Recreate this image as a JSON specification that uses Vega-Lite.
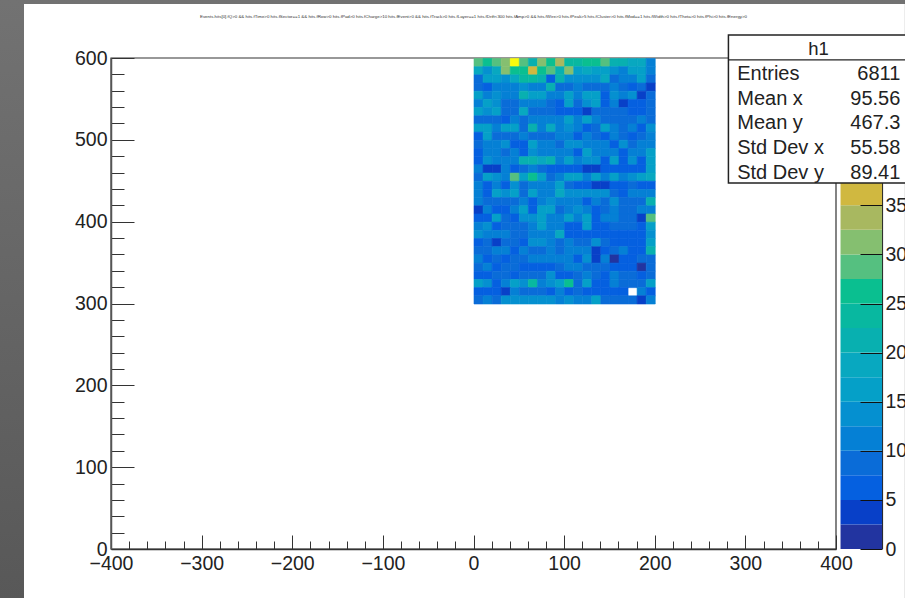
{
"$schema":"https://vega.github.io/schema/vega-lite/v6.json",
"width":725,"height":491,
"autosize":{"type":"none"},
"padding":{"left":111,"top":58,"right":69,"bottom":49},
"background":"#636363",
"view":{"stroke":null},
"config":{"font":"Liberation Sans"},
"title":{"text":"Events.hits[0].fQ>0 && hits.fTime>0 hits.fSector==1 && hits.fRow>0 hits.fPad>0 hits.fCharge>10 hits.fEvent>0 && hits.fTrack>0 hits.fLayer==1 hits.fDrift<300 hits.fAmp>0 && hits.fWire>0 hits.fPeak>5 hits.fCluster>0 hits.fMod==1 hits.fWidth>0 hits.fTheta>0 hits.fPhi>0 hits.fEnergy>0","fontSize":4.4,"fontWeight":"normal","color":"#333","anchor":"middle","offset":-20,"font":"Liberation Sans"},
"datasets":{
"cells":[
{"x":5,"y":595,"n":29},{"x":15,"y":595,"n":26},{"x":25,"y":595,"n":28},{"x":35,"y":595,"n":31},{"x":45,"y":595,"n":49},{"x":55,"y":595,"n":28},{"x":65,"y":595,"n":21},{"x":75,"y":595,"n":31},{"x":85,"y":595,"n":26},{"x":95,"y":595,"n":33},{"x":105,"y":595,"n":24},{"x":115,"y":595,"n":24},{"x":125,"y":595,"n":25},{"x":135,"y":595,"n":25},{"x":145,"y":595,"n":28},{"x":155,"y":595,"n":22},{"x":165,"y":595,"n":22},{"x":175,"y":595,"n":18},{"x":185,"y":595,"n":18},{"x":195,"y":595,"n":11},
{"x":5,"y":585,"n":18},{"x":15,"y":585,"n":13},{"x":25,"y":585,"n":18},{"x":35,"y":585,"n":31},{"x":45,"y":585,"n":25},{"x":55,"y":585,"n":25},{"x":65,"y":585,"n":36},{"x":75,"y":585,"n":26},{"x":85,"y":585,"n":28},{"x":95,"y":585,"n":21},{"x":105,"y":585,"n":30},{"x":115,"y":585,"n":15},{"x":125,"y":585,"n":19},{"x":135,"y":585,"n":17},{"x":145,"y":585,"n":17},{"x":155,"y":585,"n":13},{"x":165,"y":585,"n":11},{"x":175,"y":585,"n":17},{"x":185,"y":585,"n":16},{"x":195,"y":585,"n":11},
{"x":5,"y":575,"n":9},{"x":15,"y":575,"n":15},{"x":25,"y":575,"n":16},{"x":35,"y":575,"n":13},{"x":45,"y":575,"n":18},{"x":55,"y":575,"n":24},{"x":65,"y":575,"n":24},{"x":75,"y":575,"n":21},{"x":85,"y":575,"n":7},{"x":95,"y":575,"n":22},{"x":105,"y":575,"n":13},{"x":115,"y":575,"n":13},{"x":125,"y":575,"n":14},{"x":135,"y":575,"n":14},{"x":145,"y":575,"n":18},{"x":155,"y":575,"n":9},{"x":165,"y":575,"n":11},{"x":175,"y":575,"n":12},{"x":185,"y":575,"n":16},{"x":195,"y":575,"n":9},
{"x":5,"y":565,"n":8},{"x":15,"y":565,"n":6},{"x":25,"y":565,"n":11},{"x":35,"y":565,"n":12},{"x":45,"y":565,"n":12},{"x":55,"y":565,"n":14},{"x":65,"y":565,"n":11},{"x":75,"y":565,"n":11},{"x":85,"y":565,"n":20},{"x":95,"y":565,"n":8},{"x":105,"y":565,"n":9},{"x":115,"y":565,"n":10},{"x":125,"y":565,"n":8},{"x":135,"y":565,"n":8},{"x":145,"y":565,"n":9},{"x":155,"y":565,"n":11},{"x":165,"y":565,"n":9},{"x":175,"y":565,"n":5},{"x":185,"y":565,"n":8},{"x":195,"y":565,"n":4},
{"x":5,"y":555,"n":15},{"x":15,"y":555,"n":11},{"x":25,"y":555,"n":13},{"x":35,"y":555,"n":10},{"x":45,"y":555,"n":10},{"x":55,"y":555,"n":21},{"x":65,"y":555,"n":16},{"x":75,"y":555,"n":15},{"x":85,"y":555,"n":12},{"x":95,"y":555,"n":10},{"x":105,"y":555,"n":17},{"x":115,"y":555,"n":12},{"x":125,"y":555,"n":15},{"x":135,"y":555,"n":15},{"x":145,"y":555,"n":7},{"x":155,"y":555,"n":13},{"x":165,"y":555,"n":11},{"x":175,"y":555,"n":14},{"x":185,"y":555,"n":4},{"x":195,"y":555,"n":9},
{"x":5,"y":545,"n":11},{"x":15,"y":545,"n":16},{"x":25,"y":545,"n":14},{"x":35,"y":545,"n":9},{"x":45,"y":545,"n":9},{"x":55,"y":545,"n":12},{"x":65,"y":545,"n":12},{"x":75,"y":545,"n":12},{"x":85,"y":545,"n":9},{"x":95,"y":545,"n":6},{"x":105,"y":545,"n":16},{"x":115,"y":545,"n":9},{"x":125,"y":545,"n":13},{"x":135,"y":545,"n":15},{"x":145,"y":545,"n":7},{"x":155,"y":545,"n":11},{"x":165,"y":545,"n":4},{"x":175,"y":545,"n":7},{"x":185,"y":545,"n":7},{"x":195,"y":545,"n":9},
{"x":5,"y":535,"n":15},{"x":15,"y":535,"n":13},{"x":25,"y":535,"n":15},{"x":35,"y":535,"n":9},{"x":45,"y":535,"n":9},{"x":55,"y":535,"n":18},{"x":65,"y":535,"n":9},{"x":75,"y":535,"n":9},{"x":85,"y":535,"n":9},{"x":95,"y":535,"n":6},{"x":105,"y":535,"n":6},{"x":115,"y":535,"n":6},{"x":125,"y":535,"n":3},{"x":135,"y":535,"n":9},{"x":145,"y":535,"n":9},{"x":155,"y":535,"n":9},{"x":165,"y":535,"n":8},{"x":175,"y":535,"n":7},{"x":185,"y":535,"n":7},{"x":195,"y":535,"n":9},
{"x":5,"y":525,"n":9},{"x":15,"y":525,"n":9},{"x":25,"y":525,"n":8},{"x":35,"y":525,"n":7},{"x":45,"y":525,"n":11},{"x":55,"y":525,"n":8},{"x":65,"y":525,"n":10},{"x":75,"y":525,"n":12},{"x":85,"y":525,"n":10},{"x":95,"y":525,"n":10},{"x":105,"y":525,"n":15},{"x":115,"y":525,"n":12},{"x":125,"y":525,"n":15},{"x":135,"y":525,"n":10},{"x":145,"y":525,"n":8},{"x":155,"y":525,"n":9},{"x":165,"y":525,"n":9},{"x":175,"y":525,"n":9},{"x":185,"y":525,"n":11},{"x":195,"y":525,"n":8},
{"x":5,"y":515,"n":15},{"x":15,"y":515,"n":16},{"x":25,"y":515,"n":12},{"x":35,"y":515,"n":15},{"x":45,"y":515,"n":16},{"x":55,"y":515,"n":9},{"x":65,"y":515,"n":21},{"x":75,"y":515,"n":12},{"x":85,"y":515,"n":18},{"x":95,"y":515,"n":10},{"x":105,"y":515,"n":14},{"x":115,"y":515,"n":12},{"x":125,"y":515,"n":7},{"x":135,"y":515,"n":9},{"x":145,"y":515,"n":16},{"x":155,"y":515,"n":11},{"x":165,"y":515,"n":9},{"x":175,"y":515,"n":11},{"x":185,"y":515,"n":7},{"x":195,"y":515,"n":13},
{"x":5,"y":505,"n":6},{"x":15,"y":505,"n":15},{"x":25,"y":505,"n":8},{"x":35,"y":505,"n":9},{"x":45,"y":505,"n":9},{"x":55,"y":505,"n":11},{"x":65,"y":505,"n":9},{"x":75,"y":505,"n":8},{"x":85,"y":505,"n":8},{"x":95,"y":505,"n":11},{"x":105,"y":505,"n":12},{"x":115,"y":505,"n":7},{"x":125,"y":505,"n":12},{"x":135,"y":505,"n":9},{"x":145,"y":505,"n":7},{"x":155,"y":505,"n":12},{"x":165,"y":505,"n":8},{"x":175,"y":505,"n":7},{"x":185,"y":505,"n":9},{"x":195,"y":505,"n":10},
{"x":5,"y":495,"n":8},{"x":15,"y":495,"n":10},{"x":25,"y":495,"n":10},{"x":35,"y":495,"n":14},{"x":45,"y":495,"n":7},{"x":55,"y":495,"n":6},{"x":65,"y":495,"n":15},{"x":75,"y":495,"n":12},{"x":85,"y":495,"n":12},{"x":95,"y":495,"n":8},{"x":105,"y":495,"n":13},{"x":115,"y":495,"n":13},{"x":125,"y":495,"n":10},{"x":135,"y":495,"n":12},{"x":145,"y":495,"n":10},{"x":155,"y":495,"n":7},{"x":165,"y":495,"n":13},{"x":175,"y":495,"n":9},{"x":185,"y":495,"n":10},{"x":195,"y":495,"n":10},
{"x":5,"y":485,"n":6},{"x":15,"y":485,"n":11},{"x":25,"y":485,"n":10},{"x":35,"y":485,"n":8},{"x":45,"y":485,"n":11},{"x":55,"y":485,"n":7},{"x":65,"y":485,"n":13},{"x":75,"y":485,"n":12},{"x":85,"y":485,"n":11},{"x":95,"y":485,"n":11},{"x":105,"y":485,"n":11},{"x":115,"y":485,"n":7},{"x":125,"y":485,"n":15},{"x":135,"y":485,"n":10},{"x":145,"y":485,"n":11},{"x":155,"y":485,"n":10},{"x":165,"y":485,"n":7},{"x":175,"y":485,"n":12},{"x":185,"y":485,"n":10},{"x":195,"y":485,"n":15},
{"x":5,"y":475,"n":6},{"x":15,"y":475,"n":14},{"x":25,"y":475,"n":10},{"x":35,"y":475,"n":10},{"x":45,"y":475,"n":10},{"x":55,"y":475,"n":21},{"x":65,"y":475,"n":21},{"x":75,"y":475,"n":18},{"x":85,"y":475,"n":22},{"x":95,"y":475,"n":10},{"x":105,"y":475,"n":17},{"x":115,"y":475,"n":11},{"x":125,"y":475,"n":14},{"x":135,"y":475,"n":14},{"x":145,"y":475,"n":7},{"x":155,"y":475,"n":16},{"x":165,"y":475,"n":7},{"x":175,"y":475,"n":13},{"x":185,"y":475,"n":6},{"x":195,"y":475,"n":15},
{"x":5,"y":465,"n":10},{"x":15,"y":465,"n":4},{"x":25,"y":465,"n":4},{"x":35,"y":465,"n":10},{"x":45,"y":465,"n":5},{"x":55,"y":465,"n":9},{"x":65,"y":465,"n":10},{"x":75,"y":465,"n":8},{"x":85,"y":465,"n":7},{"x":95,"y":465,"n":7},{"x":105,"y":465,"n":7},{"x":115,"y":465,"n":7},{"x":125,"y":465,"n":4},{"x":135,"y":465,"n":4},{"x":145,"y":465,"n":7},{"x":155,"y":465,"n":7},{"x":165,"y":465,"n":7},{"x":175,"y":465,"n":7},{"x":185,"y":465,"n":7},{"x":195,"y":465,"n":15},
{"x":5,"y":455,"n":8},{"x":15,"y":455,"n":15},{"x":25,"y":455,"n":14},{"x":35,"y":455,"n":12},{"x":45,"y":455,"n":28},{"x":55,"y":455,"n":16},{"x":65,"y":455,"n":25},{"x":75,"y":455,"n":17},{"x":85,"y":455,"n":9},{"x":95,"y":455,"n":11},{"x":105,"y":455,"n":16},{"x":115,"y":455,"n":16},{"x":125,"y":455,"n":12},{"x":135,"y":455,"n":16},{"x":145,"y":455,"n":11},{"x":155,"y":455,"n":16},{"x":165,"y":455,"n":12},{"x":175,"y":455,"n":13},{"x":185,"y":455,"n":15},{"x":195,"y":455,"n":19},
{"x":5,"y":445,"n":10},{"x":15,"y":445,"n":5},{"x":25,"y":445,"n":11},{"x":35,"y":445,"n":6},{"x":45,"y":445,"n":13},{"x":55,"y":445,"n":9},{"x":65,"y":445,"n":11},{"x":75,"y":445,"n":12},{"x":85,"y":445,"n":11},{"x":95,"y":445,"n":17},{"x":105,"y":445,"n":9},{"x":115,"y":445,"n":7},{"x":125,"y":445,"n":7},{"x":135,"y":445,"n":4},{"x":145,"y":445,"n":4},{"x":155,"y":445,"n":7},{"x":165,"y":445,"n":7},{"x":175,"y":445,"n":8},{"x":185,"y":445,"n":5},{"x":195,"y":445,"n":7},
{"x":5,"y":435,"n":12},{"x":15,"y":435,"n":5},{"x":25,"y":435,"n":16},{"x":35,"y":435,"n":13},{"x":45,"y":435,"n":15},{"x":55,"y":435,"n":9},{"x":65,"y":435,"n":15},{"x":75,"y":435,"n":11},{"x":85,"y":435,"n":11},{"x":95,"y":435,"n":18},{"x":105,"y":435,"n":13},{"x":115,"y":435,"n":13},{"x":125,"y":435,"n":13},{"x":135,"y":435,"n":14},{"x":145,"y":435,"n":14},{"x":155,"y":435,"n":8},{"x":165,"y":435,"n":7},{"x":175,"y":435,"n":10},{"x":185,"y":435,"n":10},{"x":195,"y":435,"n":12},
{"x":5,"y":425,"n":12},{"x":15,"y":425,"n":9},{"x":25,"y":425,"n":9},{"x":35,"y":425,"n":9},{"x":45,"y":425,"n":9},{"x":55,"y":425,"n":10},{"x":65,"y":425,"n":6},{"x":75,"y":425,"n":10},{"x":85,"y":425,"n":13},{"x":95,"y":425,"n":11},{"x":105,"y":425,"n":11},{"x":115,"y":425,"n":11},{"x":125,"y":425,"n":6},{"x":135,"y":425,"n":11},{"x":145,"y":425,"n":8},{"x":155,"y":425,"n":13},{"x":165,"y":425,"n":8},{"x":175,"y":425,"n":8},{"x":185,"y":425,"n":9},{"x":195,"y":425,"n":22},
{"x":5,"y":415,"n":4},{"x":15,"y":415,"n":11},{"x":25,"y":415,"n":7},{"x":35,"y":415,"n":7},{"x":45,"y":415,"n":12},{"x":55,"y":415,"n":17},{"x":65,"y":415,"n":6},{"x":75,"y":415,"n":15},{"x":85,"y":415,"n":15},{"x":95,"y":415,"n":8},{"x":105,"y":415,"n":11},{"x":115,"y":415,"n":13},{"x":125,"y":415,"n":12},{"x":135,"y":415,"n":7},{"x":145,"y":415,"n":8},{"x":155,"y":415,"n":11},{"x":165,"y":415,"n":8},{"x":175,"y":415,"n":8},{"x":185,"y":415,"n":11},{"x":195,"y":415,"n":11},
{"x":5,"y":405,"n":7},{"x":15,"y":405,"n":7},{"x":25,"y":405,"n":15},{"x":35,"y":405,"n":9},{"x":45,"y":405,"n":7},{"x":55,"y":405,"n":13},{"x":65,"y":405,"n":13},{"x":75,"y":405,"n":17},{"x":85,"y":405,"n":10},{"x":95,"y":405,"n":10},{"x":105,"y":405,"n":17},{"x":115,"y":405,"n":11},{"x":125,"y":405,"n":16},{"x":135,"y":405,"n":7},{"x":145,"y":405,"n":11},{"x":155,"y":405,"n":11},{"x":165,"y":405,"n":9},{"x":175,"y":405,"n":9},{"x":185,"y":405,"n":4},{"x":195,"y":405,"n":29},
{"x":5,"y":395,"n":10},{"x":15,"y":395,"n":13},{"x":25,"y":395,"n":7},{"x":35,"y":395,"n":9},{"x":45,"y":395,"n":9},{"x":55,"y":395,"n":9},{"x":65,"y":395,"n":11},{"x":75,"y":395,"n":16},{"x":85,"y":395,"n":10},{"x":95,"y":395,"n":10},{"x":105,"y":395,"n":6},{"x":115,"y":395,"n":7},{"x":125,"y":395,"n":16},{"x":135,"y":395,"n":7},{"x":145,"y":395,"n":7},{"x":155,"y":395,"n":8},{"x":165,"y":395,"n":8},{"x":175,"y":395,"n":9},{"x":185,"y":395,"n":7},{"x":195,"y":395,"n":15},
{"x":5,"y":385,"n":13},{"x":15,"y":385,"n":11},{"x":25,"y":385,"n":11},{"x":35,"y":385,"n":11},{"x":45,"y":385,"n":9},{"x":55,"y":385,"n":9},{"x":65,"y":385,"n":11},{"x":75,"y":385,"n":10},{"x":85,"y":385,"n":10},{"x":95,"y":385,"n":18},{"x":105,"y":385,"n":7},{"x":115,"y":385,"n":7},{"x":125,"y":385,"n":7},{"x":135,"y":385,"n":7},{"x":145,"y":385,"n":7},{"x":155,"y":385,"n":7},{"x":165,"y":385,"n":7},{"x":175,"y":385,"n":7},{"x":185,"y":385,"n":7},{"x":195,"y":385,"n":13},
{"x":5,"y":375,"n":7},{"x":15,"y":375,"n":9},{"x":25,"y":375,"n":4},{"x":35,"y":375,"n":8},{"x":45,"y":375,"n":9},{"x":55,"y":375,"n":6},{"x":65,"y":375,"n":14},{"x":75,"y":375,"n":13},{"x":85,"y":375,"n":12},{"x":95,"y":375,"n":8},{"x":105,"y":375,"n":10},{"x":115,"y":375,"n":9},{"x":125,"y":375,"n":9},{"x":135,"y":375,"n":13},{"x":145,"y":375,"n":9},{"x":155,"y":375,"n":6},{"x":165,"y":375,"n":7},{"x":175,"y":375,"n":7},{"x":185,"y":375,"n":7},{"x":195,"y":375,"n":15},
{"x":5,"y":365,"n":9},{"x":15,"y":365,"n":9},{"x":25,"y":365,"n":11},{"x":35,"y":365,"n":11},{"x":45,"y":365,"n":7},{"x":55,"y":365,"n":12},{"x":65,"y":365,"n":9},{"x":75,"y":365,"n":9},{"x":85,"y":365,"n":10},{"x":95,"y":365,"n":8},{"x":105,"y":365,"n":12},{"x":115,"y":365,"n":10},{"x":125,"y":365,"n":10},{"x":135,"y":365,"n":4},{"x":145,"y":365,"n":7},{"x":155,"y":365,"n":9},{"x":165,"y":365,"n":12},{"x":175,"y":365,"n":7},{"x":185,"y":365,"n":7},{"x":195,"y":365,"n":22},
{"x":5,"y":355,"n":10},{"x":15,"y":355,"n":5},{"x":25,"y":355,"n":8},{"x":35,"y":355,"n":6},{"x":45,"y":355,"n":8},{"x":55,"y":355,"n":8},{"x":65,"y":355,"n":10},{"x":75,"y":355,"n":10},{"x":85,"y":355,"n":12},{"x":95,"y":355,"n":10},{"x":105,"y":355,"n":10},{"x":115,"y":355,"n":6},{"x":125,"y":355,"n":14},{"x":135,"y":355,"n":4},{"x":145,"y":355,"n":10},{"x":155,"y":355,"n":2},{"x":165,"y":355,"n":7},{"x":175,"y":355,"n":7},{"x":185,"y":355,"n":9},{"x":195,"y":355,"n":9},
{"x":5,"y":345,"n":9},{"x":15,"y":345,"n":12},{"x":25,"y":345,"n":7},{"x":35,"y":345,"n":8},{"x":45,"y":345,"n":8},{"x":55,"y":345,"n":7},{"x":65,"y":345,"n":6},{"x":75,"y":345,"n":7},{"x":85,"y":345,"n":7},{"x":95,"y":345,"n":8},{"x":105,"y":345,"n":11},{"x":115,"y":345,"n":11},{"x":125,"y":345,"n":8},{"x":135,"y":345,"n":9},{"x":145,"y":345,"n":8},{"x":155,"y":345,"n":7},{"x":165,"y":345,"n":7},{"x":175,"y":345,"n":5},{"x":185,"y":345,"n":2},{"x":195,"y":345,"n":9},
{"x":5,"y":335,"n":6},{"x":15,"y":335,"n":6},{"x":25,"y":335,"n":8},{"x":35,"y":335,"n":8},{"x":45,"y":335,"n":6},{"x":55,"y":335,"n":9},{"x":65,"y":335,"n":9},{"x":75,"y":335,"n":8},{"x":85,"y":335,"n":14},{"x":95,"y":335,"n":7},{"x":105,"y":335,"n":7},{"x":115,"y":335,"n":8},{"x":125,"y":335,"n":10},{"x":135,"y":335,"n":8},{"x":145,"y":335,"n":6},{"x":155,"y":335,"n":12},{"x":165,"y":335,"n":8},{"x":175,"y":335,"n":8},{"x":185,"y":335,"n":5},{"x":195,"y":335,"n":9},
{"x":5,"y":325,"n":15},{"x":15,"y":325,"n":13},{"x":25,"y":325,"n":7},{"x":35,"y":325,"n":12},{"x":45,"y":325,"n":16},{"x":55,"y":325,"n":13},{"x":65,"y":325,"n":24},{"x":75,"y":325,"n":12},{"x":85,"y":325,"n":13},{"x":95,"y":325,"n":16},{"x":105,"y":325,"n":25},{"x":115,"y":325,"n":9},{"x":125,"y":325,"n":17},{"x":135,"y":325,"n":7},{"x":145,"y":325,"n":7},{"x":155,"y":325,"n":12},{"x":165,"y":325,"n":9},{"x":175,"y":325,"n":9},{"x":185,"y":325,"n":9},{"x":195,"y":325,"n":16},
{"x":5,"y":315,"n":5},{"x":15,"y":315,"n":7},{"x":25,"y":315,"n":7},{"x":35,"y":315,"n":4},{"x":45,"y":315,"n":11},{"x":55,"y":315,"n":8},{"x":65,"y":315,"n":8},{"x":75,"y":315,"n":8},{"x":85,"y":315,"n":5},{"x":95,"y":315,"n":11},{"x":105,"y":315,"n":7},{"x":115,"y":315,"n":9},{"x":125,"y":315,"n":5},{"x":135,"y":315,"n":5},{"x":145,"y":315,"n":7},{"x":155,"y":315,"n":5},{"x":165,"y":315,"n":7},{"x":185,"y":315,"n":10},{"x":195,"y":315,"n":7},
{"x":5,"y":305,"n":8},{"x":15,"y":305,"n":10},{"x":25,"y":305,"n":8},{"x":35,"y":305,"n":13},{"x":45,"y":305,"n":13},{"x":55,"y":305,"n":13},{"x":65,"y":305,"n":13},{"x":75,"y":305,"n":13},{"x":85,"y":305,"n":13},{"x":95,"y":305,"n":12},{"x":105,"y":305,"n":13},{"x":115,"y":305,"n":12},{"x":125,"y":305,"n":11},{"x":135,"y":305,"n":15},{"x":145,"y":305,"n":8},{"x":155,"y":305,"n":8},{"x":165,"y":305,"n":8},{"x":175,"y":305,"n":8},{"x":185,"y":305,"n":4},{"x":195,"y":305,"n":10}
],
"levels":[{"z":1.25,"lo":0,"hi":2.5},{"z":3.75,"lo":2.5,"hi":5},{"z":6.25,"lo":5,"hi":7.5},{"z":8.75,"lo":7.5,"hi":10},{"z":11.25,"lo":10,"hi":12.5},{"z":13.75,"lo":12.5,"hi":15},{"z":16.25,"lo":15,"hi":17.5},{"z":18.75,"lo":17.5,"hi":20},{"z":21.25,"lo":20,"hi":22.5},{"z":23.75,"lo":22.5,"hi":25},{"z":26.25,"lo":25,"hi":27.5},{"z":28.75,"lo":27.5,"hi":30},{"z":31.25,"lo":30,"hi":32.5},{"z":33.75,"lo":32.5,"hi":35},{"z":36.25,"lo":35,"hi":37.5},{"z":38.75,"lo":37.5,"hi":40},{"z":41.25,"lo":40,"hi":42.5},{"z":43.75,"lo":42.5,"hi":45},{"z":46.25,"lo":45,"hi":47.5},{"z":48.75,"lo":47.5,"hi":50}],
"stats":[{"row":1,"name":"Entries","val":"6811"},{"row":2,"name":"Mean x","val":"95.56"},{"row":3,"name":"Mean y","val":"467.3"},{"row":4,"name":"Std Dev x","val":"55.58"},{"row":5,"name":"Std Dev y","val":"89.41"}]
},
"resolve":{"scale":{"y":"independent"},"axis":{"x":"independent","y":"independent"}},
"layer":[
{"data":{"values":[{}]},"mark":{"type":"rect","fill":{"gradient":"linear","x1":0,"y1":0,"x2":0,"y2":1,"stops":[{"offset":0,"color":"#727272"},{"offset":1,"color":"#585858"}]}},
 "encoding":{"x":{"datum":-523,"type":"quantitative","scale":{"domain":[-400,400]},"axis":null},"x2":{"datum":476},"y":{"datum":-60,"type":"quantitative","scale":{"domain":[0,600]},"axis":null},"y2":{"datum":671}}},
{"data":{"values":[{}]},"mark":{"type":"rect","fill":"white"},
 "encoding":{"x":{"datum":-496,"type":"quantitative","scale":{"domain":[-400,400]},"axis":null},"x2":{"datum":476},"y":{"datum":-60,"type":"quantitative","scale":{"domain":[0,600]},"axis":null},"y2":{"datum":666}}},
{"data":{"values":[{}]},"mark":{"type":"rect","fill":null,"stroke":"#333","strokeWidth":1.2},
 "encoding":{
  "x":{"datum":-400,"type":"quantitative","scale":{"domain":[-400,400]},
   "axis":{"zindex":1,"title":null,"values":[-400,-380,-360,-340,-320,-300,-280,-260,-240,-220,-200,-180,-160,-140,-120,-100,-80,-60,-40,-20,0,20,40,60,80,100,120,140,160,180,200,220,240,260,280,300,320,340,360,380,400],
    "labelExpr":"datum.value % 100 === 0 ? replace(format(datum.value,'d'),'-','−') : ''",
    "labelOverlap":false,"labelBound":false,"labelFlush":false,"labelFontSize":19.5,"labelColor":"#222","labelFont":"Liberation Sans","labelPadding":19,
    "grid":false,"domainColor":"#333","domainWidth":1.5,"tickColor":"#333","tickWidth":1,
    "tickSize":{"condition":{"test":"datum.value % 100 === 0","value":-14},"value":-8}}},
  "x2":{"datum":400},
  "y":{"datum":0,"type":"quantitative","scale":{"domain":[0,600]},
   "axis":{"zindex":1,"title":null,"values":[0,20,40,60,80,100,120,140,160,180,200,220,240,260,280,300,320,340,360,380,400,420,440,460,480,500,520,540,560,580,600],
    "labelExpr":"datum.value % 100 === 0 ? datum.label : ''",
    "labelOverlap":false,"labelBound":false,"labelFlush":false,"labelFontSize":19.5,"labelColor":"#222","labelFont":"Liberation Sans","labelPadding":27,
    "grid":false,"domainColor":"#555","domainWidth":1.5,"tickColor":"#333","tickWidth":1,
    "tickSize":{"condition":{"test":"datum.value % 100 === 0","value":-23},"value":-13}}},
  "y2":{"datum":600}}},
{"data":{"name":"cells"},"mark":{"type":"rect","binSpacing":0,"strokeWidth":0.6},
 "encoding":{
  "x":{"field":"x","type":"quantitative","bin":{"step":10,"extent":[-400,400]},"scale":{"domain":[-400,400]},"axis":null},
  "y":{"field":"y","type":"quantitative","bin":{"step":10,"extent":[0,600]},"scale":{"domain":[0,600]},"axis":null},
  "color":{"field":"n","type":"quantitative","legend":null,"scale":{"type":"quantize","domain":[0,50],"range":["#2234a0","#0840c8","#0560e0","#0a6cd8","#0580d5","#0590d0","#05a0c8","#08a8c0","#08b0b0","#08b8a0","#0abf90","#55c080","#85bf70","#a8b860","#d0b840","#e8bc34","#f8c234","#fbd02a","#f6e420","#f9fb0e"]}},
  "stroke":{"field":"n","type":"quantitative","legend":null,"scale":{"type":"quantize","domain":[0,50],"range":["#2234a0","#0840c8","#0560e0","#0a6cd8","#0580d5","#0590d0","#05a0c8","#08a8c0","#08b0b0","#08b8a0","#0abf90","#55c080","#85bf70","#a8b860","#d0b840","#e8bc34","#f8c234","#fbd02a","#f6e420","#f9fb0e"]}}}},
{"data":{"name":"levels"},"mark":{"type":"rect"},
 "encoding":{
  "x":{"datum":405,"type":"quantitative","scale":{"domain":[-400,400]},"axis":null},"x2":{"datum":451.4},
  "y":{"field":"lo","type":"quantitative","scale":{"domain":[0,50]},
   "axis":{"orient":"right","offset":46,"zindex":1,"title":null,"values":[0,5,10,15,20,25,30,35],"grid":false,"domain":false,"tickColor":"#111","tickWidth":1,"tickSize":-22,"labelFontSize":19.5,"labelColor":"#222","labelFont":"Liberation Sans","labelPadding":25,"labelBound":false,"labelFlush":false,"labelOverlap":false}},
  "y2":{"field":"hi"},
  "color":{"field":"z","type":"quantitative","legend":null,"scale":{"type":"quantize","domain":[0,50]}}}},
{"data":{"values":[{}]},"mark":{"type":"rule","color":"#222","strokeWidth":1},
 "encoding":{"x":{"datum":451.4,"type":"quantitative","scale":{"domain":[-400,400]},"axis":null},"y":{"datum":0,"type":"quantitative","scale":{"domain":[0,600]},"axis":null},"y2":{"datum":600}}},
{"data":{"values":[{}]},"mark":{"type":"rect","fill":"white","stroke":"#222","strokeWidth":1.5},
 "encoding":{"x":{"datum":281.3,"type":"quantitative","scale":{"domain":[-400,400]},"axis":null},"x2":{"datum":490},"y":{"datum":447.2,"type":"quantitative","scale":{"domain":[0,600]},"axis":null},"y2":{"datum":628}}},
{"data":{"values":[{}]},"mark":{"type":"rule","color":"#222","strokeWidth":1.2},
 "encoding":{"x":{"datum":281.3,"type":"quantitative","scale":{"domain":[-400,400]},"axis":null},"x2":{"datum":490},"y":{"datum":597.7,"type":"quantitative","scale":{"domain":[0,600]},"axis":null}}},
{"data":{"values":[{"t":"h1"}]},"mark":{"type":"text","fontSize":18.5,"color":"#222","font":"Liberation Sans"},
 "encoding":{"text":{"field":"t"},"x":{"datum":380.7,"type":"quantitative","scale":{"domain":[-400,400]},"axis":null},"y":{"datum":611,"type":"quantitative","scale":{"domain":[0,600]},"axis":null}}},
{"data":{"name":"stats"},"mark":{"type":"text","fontSize":20,"align":"left","color":"#222","font":"Liberation Sans"},
 "encoding":{"text":{"field":"name"},"x":{"datum":291,"type":"quantitative","scale":{"domain":[-400,400]},"axis":null},"y":{"field":"row","type":"quantitative","scale":{"domain":[20.2,0.36]},"axis":null}}},
{"data":{"name":"stats"},"mark":{"type":"text","fontSize":20,"align":"right","color":"#222","font":"Liberation Sans"},
 "encoding":{"text":{"field":"val"},"x":{"datum":471,"type":"quantitative","scale":{"domain":[-400,400]},"axis":null},"y":{"field":"row","type":"quantitative","scale":{"domain":[20.2,0.36]},"axis":null}}}
]
}
